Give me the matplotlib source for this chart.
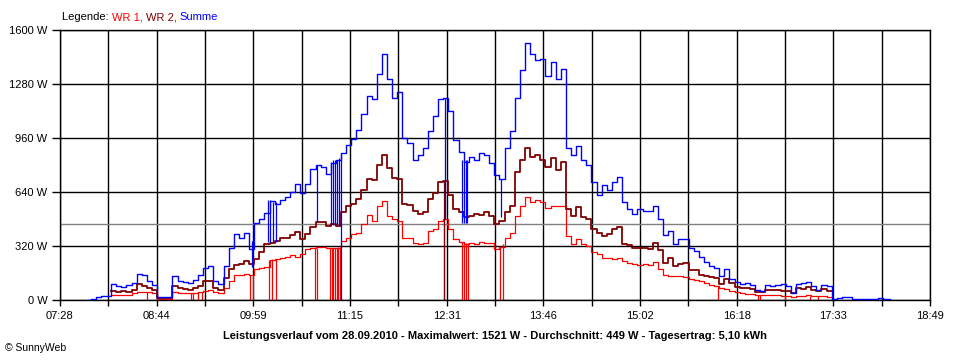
import matplotlib
matplotlib.use("Agg")
import matplotlib.pyplot as plt
from matplotlib.transforms import IdentityTransform
import numpy as np

nan = np.nan

# sample times (minutes since midnight), 4-minute readings from 07:50 to 18:18
times = np.arange(470, 470 + 4 * 158, 4)

summe = [0, 5, 15, 24, 24, 95, 85, 80, 90, 100,
         155, 150, 110, 90, 20, 20, 20, 145, 115, 105,
         100, 120, 150, 190, 200, 110, 95, 200, 310, 390,
         365, 400, 300, 455, 480, 515, 585, 570, 590, 610,
         640, 690, 635, 690, 775, 800, 790, 745, 810, 830,
         870, 920, 955, 1010, 1100, 1210, 1190, 1340, 1460, 1310,
         1200, 1230, 960, 930, 830, 860, 900, 1000, 1090, 1190,
         1200, 1120, 950, 880, 820, 850, 830, 870, 860, 810,
         740, 720, 900, 1000, 1200, 1360, 1521, 1460, 1420, 1430,
         1330, 1410, 1310, 1370, 900, 860, 910, 830, 800, 700,
         620, 680, 650, 700, 730, 580, 540, 510, 540, 530,
         530, 560, 480, 385, 410, 330, 360, 360, 310, 290,
         255, 225, 200, 190, 145, 185, 125, 105, 95, 100,
         90, 60, 55, 90, 85, 90, 95, 85, 40, 95,
         100, 105, 85, 60, 90, 85, 8, 12, 20, 15,
         8, 6, 6, 8, 6, 10, 5, 5]

wr2 = [nan, nan, nan, nan, nan, 55, 50, 55, 50, 60,
       95, 85, 70, 60, 12, 12, 12, 85, 70, 65,
       60, 70, 85, 110, 115, 70, 60, 130, 185, 210,
       215, 230, 215, 245, 285, 330, 340, 350, 370, 365,
       385, 405, 360, 390, 430, 460, 465, 440, 450, 440,
       520, 555, 570, 600, 650, 720, 710, 800, 860, 780,
       725, 720, 570, 565, 525, 510, 520, 600, 635, 700,
       705, 620, 540, 520, 490, 495, 510, 505, 520, 500,
       450, 470, 520, 560, 760, 830, 900, 850, 860, 830,
       790, 840, 770, 820, 540, 500, 550, 490, 480, 420,
       400, 380, 390, 420, 430, 330, 325, 310, 310, 310,
       300, 335, 295, 220, 250, 200, 215, 220, 180, 175,
       150, 140, 135, 130, 95, 125, 100, 75, 70, 70,
       65, 50, 45, 60, 60, 60, 55, 55, 40, 70,
       65, 80, 60, 55, 65, 55, nan, nan, nan, nan,
       nan, nan, nan, nan, nan, nan, nan, nan]

wr1 = [nan, nan, nan, nan, nan, 30, 30, 28, 30, 40,
       45, 45, 45, 40, 8, 8, 8, 45, 40, 40,
       40, 40, 45, 55, 60, 45, 40, 70, 110, 150,
       150, 155, 150, 185, 190, 195, 240, 245, 250, 255,
       265, 255, 270, 300, 310, 315, 315, 310, 310, 310,
       350, 370, 390, 400, 450, 505, 470, 560, 585, 500,
       480, 470, 370, 365, 340, 330, 340, 410, 420, 470,
       480, 420, 360, 345, 330, 335, 330, 345, 340, 340,
       300, 315, 370, 400, 500, 560, 610, 580, 590, 580,
       545, 560, 555, 560, 380, 330, 360, 330, 320, 285,
       270, 250, 250, 245, 250, 230, 220, 215, 210, 215,
       210, 225, 185, 150, 145, 140, 140, 135, 125, 120,
       110, 100, 90, 85, 70, 65, 55, 45, 40, 35,
       35, 30, 30, 30, 30, 30, 25, 25, 20, 25,
       25, 30, 25, 25, 25, 20, nan, nan, nan, nan,
       nan, nan, nan, nan, nan, nan, nan, nan]

# short drop-outs of WR 1 to zero (time in minutes, level before drop)
wr1_drop_t = [516.1, 550.5, 552.1, 556.0, 559.2, 596.7, 599.1, 611.6, 614.0, 617.1,
              647.6, 649.2, 659.4, 660.9, 661.7, 663.3, 664.8, 665.6, 667.2,
              748.6, 762.7, 764.2, 765.8, 767.4, 792.4, 794.8,
              963.1, 994.4, 996.0, 1015.5, 1035.1, 1041.3]
wr1_drop_top = [45, 40, 40, 45, 45, 150, 150, 240, 245, 245,
                310, 310, 310, 310, 310, 310, 310, 315, 315,
                480, 345, 345, 340, 335, 315, 330,
                85, 30, 30, 25, 25, 25]

wr2_drop_t = [748.6]
wr2_drop_top = [705]

# short drop-outs of the sum (time, low, high)
sum_drop_t = [598.3, 610.8, 612.4, 614.7, 617.1, 649.2, 660.1, 661.7, 663.3, 664.8,
              666.4, 668.0, 749.4, 762.7, 764.2, 765.8, 766.6, 793.2]
sum_drop_low = [198, 346, 346, 346, 346, 465, 445, 445, 445, 445,
                445, 0, 480, 456, 456, 456, 456, 490]
sum_drop_high = [350, 590, 590, 580, 580, 800, 820, 830, 830, 830,
                 840, 860, 1200, 830, 830, 830, 830, 720]

average = 449

x_start, x_end = 448, 1129   # 07:28 .. 18:49
tick_labels = ["07:28", "08:44", "09:59", "11:15", "12:31", "13:46",
               "15:02", "16:18", "17:33", "18:49"]
y_ticks = [0, 320, 640, 960, 1280, 1600]

title = ("Leistungsverlauf vom 28.09.2010 - Maximalwert: 1521 W - "
         "Durchschnitt: 449 W - Tagesertrag: 5,10 kWh")

RED = "#ff0000"
DARK = "#800000"
BLUE = "#0000ff"

plt.rcParams["font.family"] = ["Liberation Sans", "DejaVu Sans"]

fig = plt.figure(figsize=(9.6, 3.6), dpi=100)
fig.patch.set_facecolor("white")
W, H = 960, 360
ax = fig.add_axes([60 / W, 1 - 300 / H, 870 / W, 270 / H])

ax.set_xlim(x_start, x_end)
ax.set_ylim(0, 1600)

n_grid = 18
grid_pos = [x_start + i * (x_end - x_start) / n_grid for i in range(n_grid + 1)]
labels = []
for i in range(n_grid + 1):
    labels.append(tick_labels[i // 2] if i % 2 == 0 else "")
ax.set_xticks(grid_pos)
ax.set_xticklabels(labels)
ax.set_yticks(y_ticks)
ax.set_yticklabels([f"{v} W" for v in y_ticks])
ax.tick_params(axis="x", length=4, width=1, pad=4, labelsize=8, color="black")
ax.tick_params(axis="y", length=6, width=1, pad=3, labelsize=8, color="black")
for v in grid_pos:
    ax.axvline(v, color="black", lw=1.0, zorder=1)
for v in y_ticks:
    ax.axhline(v, color="black", lw=1.0, zorder=1)
for s in ax.spines.values():
    s.set_color("black")
    s.set_linewidth(1.0)

ax.axhline(average, color="#808080", lw=1.0, zorder=1.5)

ax.vlines(wr1_drop_t, 0, wr1_drop_top, color=RED, lw=0.9, zorder=2)
ax.plot(times, wr1, color=RED, lw=0.9, zorder=2, drawstyle="steps-mid")
ax.vlines(wr2_drop_t, 0, wr2_drop_top, color=DARK, lw=0.9, zorder=3)
ax.plot(times, wr2, color=DARK, lw=1.3, zorder=3, drawstyle="steps-mid")
ax.vlines(sum_drop_t, sum_drop_low, sum_drop_high, color=BLUE, lw=0.9, zorder=4)
ax.plot(times, summe, color=BLUE, lw=1.0, zorder=4, drawstyle="steps-mid")

# legend line at top
r = fig.canvas.get_renderer()
x = 62
pieces = [("Legende: ", "black"), ("WR 1, ", RED), ("WR 2, ", DARK), ("Summe", BLUE)]
for txt, col in pieces:
    t = fig.text(x, H - 17, txt, color=col, fontsize=8, va="center", ha="left",
                 transform=IdentityTransform())
    bb = t.get_window_extent(renderer=r)
    x = bb.x1

fig.text(495, H - 336, title, fontsize=8, fontweight="bold", ha="center", va="center",
         transform=IdentityTransform())
fig.text(5, H - 348, "\u00a9 SunnyWeb", fontsize=7.5, ha="left", va="center",
         transform=IdentityTransform())

fig.savefig("out.png", dpi=100)
